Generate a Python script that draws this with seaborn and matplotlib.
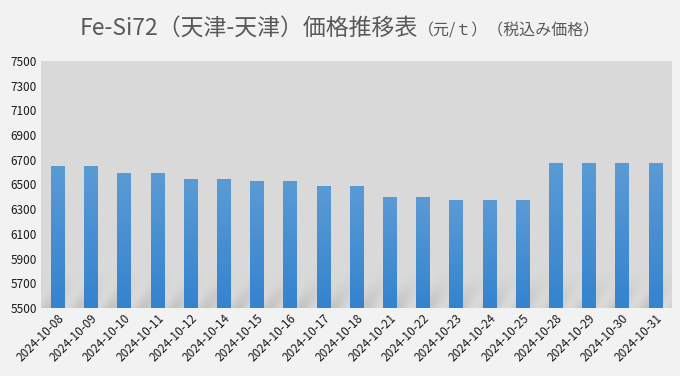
import numpy as np
import pandas as pd
import matplotlib
matplotlib.use("Agg")
import matplotlib.pyplot as plt
import seaborn as sns
from matplotlib.colors import LinearSegmentedColormap

dates = ["2024-10-08", "2024-10-09", "2024-10-10", "2024-10-11", "2024-10-12",
         "2024-10-14", "2024-10-15", "2024-10-16", "2024-10-17", "2024-10-18",
         "2024-10-21", "2024-10-22", "2024-10-23", "2024-10-24", "2024-10-25",
         "2024-10-28", "2024-10-29", "2024-10-30", "2024-10-31"]
prices = [6650, 6650, 6590, 6590, 6540, 6540, 6530, 6530, 6490, 6490,
          6400, 6400, 6370, 6370, 6370, 6670, 6670, 6670, 6670]
y_ticks = list(range(5500, 7501, 200))

df = pd.DataFrame({"date": dates, "price": prices})

sns.set_style("white")
plt.rcParams['font.family'] = ['Noto Sans CJK JP', 'DejaVu Sans']

fig = plt.figure(figsize=(6.8, 3.76), dpi=100, facecolor="#f2f2f2")
ax = fig.add_axes([0.0603, 0.181, 0.9277, 0.657])
ax.set_facecolor("#d9d9d9")

sns.barplot(data=df, x="date", y="price", color="#5b9bd5", width=0.4,
            saturation=1, linewidth=0, edgecolor="none", ax=ax, zorder=3)

ax.set_xlabel("")
ax.set_ylabel("")
for s in ax.spines.values():
    s.set_visible(False)

# gradient fill on bars
cmap = LinearSegmentedColormap.from_list("bar", ["#3483cf", "#5b9bd5"])
grad = np.linspace(0, 1, 256).reshape(-1, 1)
for p in ax.patches:
    x0, y0 = p.get_x(), p.get_y()
    w, h = p.get_width(), p.get_height()
    im = ax.imshow(grad, cmap=cmap, aspect="auto", origin="lower",
                   extent=[x0, x0 + w, 5500, y0 + h], zorder=4)
    im.set_clip_path(p)

# reflective diagonal band at bottom of plot area
xx, yy = np.meshgrid(np.linspace(0, 1, 600), np.linspace(0, 1, 60))
stripes = 0.5 + 0.5 * np.sin((xx * 60 - yy * 2.2) * 2 * np.pi / 3)
alpha = (1 - yy) ** 1.3 * 0.28 * stripes
band = np.zeros((60, 600, 4))
band[..., 0:3] = 0.55
band[..., 3] = alpha
ax.imshow(band, aspect="auto", origin="lower",
          extent=[-0.5, len(dates) - 0.5, 5500, 5800], zorder=2)

ax.set_ylim(5500, 7500)
ax.set_xlim(-0.5, len(dates) - 0.5)
ax.set_yticks(y_ticks)
ax.set_yticklabels([str(v) for v in y_ticks], fontsize=8.5, color="#1a1a1a")
ax.set_xticks(range(len(dates)))
ax.set_xticklabels(dates, rotation=45, ha="right", rotation_mode="anchor",
                   fontsize=8.5, color="#1a1a1a")
ax.tick_params(axis="both", length=0, pad=3)
ax.grid(axis="y", color="#dbdbdb", linewidth=0.8, zorder=1)

# title in two sizes
t1 = fig.text(0.117, 0.925, "Fe-Si72（天津-天津）価格推移表", fontsize=16.5,
              color="#595959", va="center", ha="left")
fig.canvas.draw()
bb = t1.get_window_extent()
x_next = bb.x1 / fig.bbox.width
fig.text(x_next, 0.918, "（元/ｔ）（税込み価格）", fontsize=11.5,
         color="#595959", va="center", ha="left")

fig.savefig("out.png", dpi=100, facecolor=fig.get_facecolor())
